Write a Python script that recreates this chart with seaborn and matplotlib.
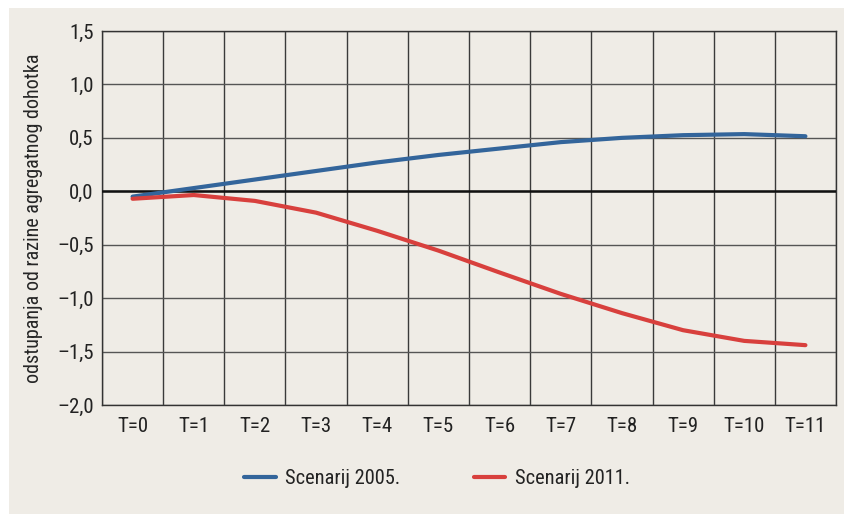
import numpy as np
import pandas as pd
import matplotlib
matplotlib.use("Agg")
import matplotlib.pyplot as plt
import seaborn as sns
from matplotlib.patches import Rectangle

periods = ["T=0", "T=1", "T=2", "T=3", "T=4", "T=5", "T=6", "T=7", "T=8", "T=9", "T=10", "T=11"]
scenarij_2005 = [-0.05, 0.03, 0.11, 0.19, 0.27, 0.34, 0.40, 0.46, 0.50, 0.525, 0.535, 0.515]
scenarij_2011 = [-0.07, -0.035, -0.09, -0.20, -0.37, -0.555, -0.76, -0.96, -1.14, -1.30, -1.40, -1.44]
y_ticks = [1.5, 1.0, 0.5, 0.0, -0.5, -1.0, -1.5, -2.0]
y_tick_labels = ["1,5", "1,0", "0,5", "0,0", "\u20130,5", "\u20131,0", "\u20131,5", "\u20132,0"]
series_names = ["Scenarij 2005.", "Scenarij 2011."]

bg = "#efece6"
colors = ["#33659b", "#d8403d"]

df = pd.DataFrame({
    "t": list(range(len(periods))) * 2,
    "value": scenarij_2005 + scenarij_2011,
    "serija": [series_names[0]] * len(periods) + [series_names[1]] * len(periods),
})

sns.set_style("white")
plt.rcParams["font.family"] = ["Roboto Condensed", "DejaVu Sans Condensed",
                               "Liberation Sans Narrow", "Roboto", "DejaVu Sans"]
plt.rcParams["font.stretch"] = "condensed"
plt.rcParams["text.color"] = "#222222"

fig = plt.figure(figsize=(8.45, 5.14), dpi=100)
fig.patch.set_facecolor("white")
fig.patches.append(Rectangle((9 / 845, 0), 1, 1 - 8 / 514, transform=fig.transFigure,
                             facecolor=bg, edgecolor="none", zorder=-10))
ax = fig.add_axes([102 / 845, 1 - 405 / 514, 734 / 845, 374 / 514])
ax.set_facecolor(bg)

sns.lineplot(data=df, x="t", y="value", hue="serija", palette=colors, linewidth=3,
             ax=ax, legend=True, zorder=5)

ax.set_xlim(-0.5, 11.5)
ax.set_ylim(-2.0, 1.5)
ax.set_xticks(range(len(periods)))
ax.set_xticklabels(periods)
ax.set_xticks(np.arange(-0.5, 12, 1), minor=True)
ax.set_yticks(y_ticks)
ax.set_yticklabels(y_tick_labels)
ax.tick_params(axis="both", which="both", length=0, labelsize=15, colors="#222222")
ax.tick_params(axis="y", pad=6)
ax.tick_params(axis="x", pad=9)

ax.grid(axis="x", which="minor", color="#3a3a3a", linewidth=1)
ax.grid(axis="y", which="major", color="#555555", linewidth=1)
ax.grid(axis="x", which="major", visible=False)
ax.axhline(0, color="#111111", linewidth=1.8, zorder=3)
for side in ["top", "right", "left", "bottom"]:
    ax.spines[side].set_color("#333333")
    ax.spines[side].set_linewidth(1)

ax.set_xlabel("")
ax.set_ylabel("odstupanja od razine agregatnog dohotka", fontsize=14.5, labelpad=10)

leg = ax.legend(loc="center", bbox_to_anchor=(437 / 845, 1 - 479 / 514),
                bbox_transform=fig.transFigure, ncol=2, frameon=False,
                fontsize=14.7, handlelength=1.55, columnspacing=3.6, handletextpad=0.45)
for line in leg.get_lines():
    line.set_linewidth(3)

fig.savefig("out.png", dpi=100, facecolor=fig.get_facecolor())
